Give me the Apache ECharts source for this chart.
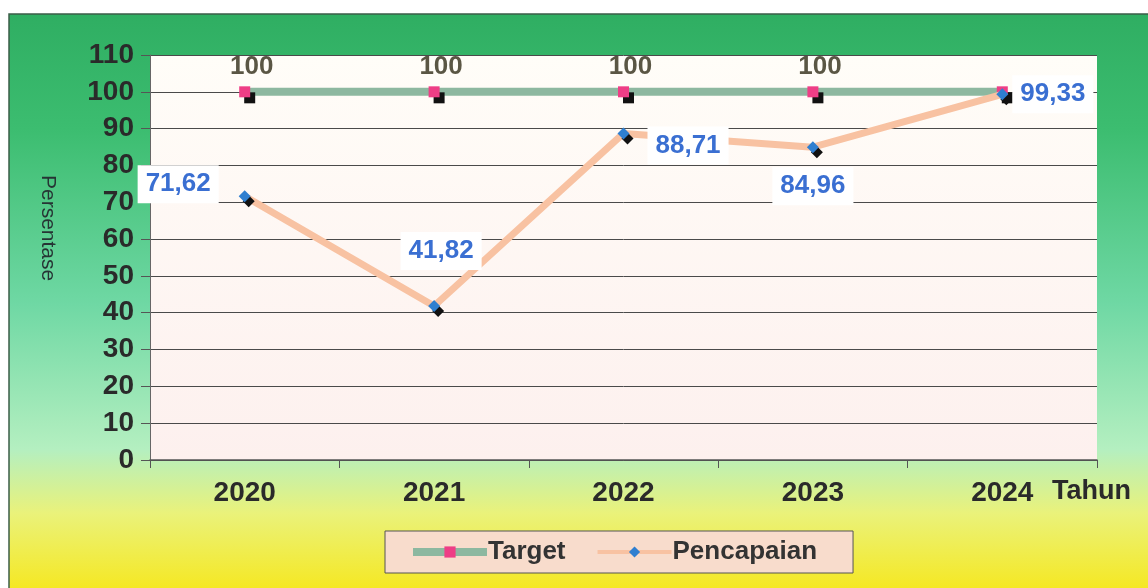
<!DOCTYPE html>
<html>
<head>
<meta charset="UTF-8">
<title>Target dan Pencapaian</title>
<script src="https://cdn.jsdelivr.net/npm/echarts@6/dist/echarts.min.js"></script>
<style>
  html, body { margin: 0; padding: 0; background: #fff; }
  #chart { width: 1148px; height: 588px; }
</style>
</head>
<body>
<div id="chart"></div>
<script>
var years = ['2020', '2021', '2022', '2023', '2024'];
var target = [100, 100, 100, 100, 100];
var pencapaian = [71.62, 41.82, 88.71, 84.96, 99.33];

var chart = echarts.init(document.getElementById('chart'));
var font = '"Liberation Sans", Arial, sans-serif';

// where each Pencapaian label sits around its point
var labelPlace = [
  { position: 'left', distance: 20, offset: [0, -12] },
  { position: 'top', distance: 30, offset: [7, 0] },
  { position: 'right', distance: 18, offset: [0, 12] },
  { position: 'bottom', distance: 14, offset: [0, 0] },
  { position: 'right', distance: 4, offset: [0, 0] }
];

function comma(v) {
  return v.toFixed(2).replace('.', ',');
}

var pencapaianData = pencapaian.map(function (v, i) {
  return { value: v, label: labelPlace[i] };
});
// the last target label is left out, the 99,33 label stands there
var targetData = target.map(function (v, i) {
  return i === target.length - 1 ? { value: v, label: { show: false } } : v;
});

var option = {
  backgroundColor: '#ffffff',
  animation: false,
  graphic: [{
    type: 'rect',
    z: -10,
    shape: { x: 9, y: 14, width: 1150, height: 580 },
    style: {
      fill: {
        type: 'linear', x: 0, y: 0, x2: 0, y2: 1,
        colorStops: [
          { offset: 0, color: '#2fae62' },
          { offset: 0.2, color: '#3cbd70' },
          { offset: 0.5, color: '#6fd8a4' },
          { offset: 0.75, color: '#b4efc0' },
          { offset: 0.86, color: '#eaf27a' },
          { offset: 1, color: '#f6e71c' }
        ]
      },
      stroke: '#3b5e48',
      lineWidth: 1.5
    }
  }, {
    type: 'text',
    left: 37,
    top: 175,
    rotation: -Math.PI / 2,
    style: {
      text: 'Persentase',
      fill: '#263434',
      font: '21px ' + font
    }
  }],
  grid: {
    left: 150,
    right: 51,
    top: 55,
    bottom: 128,
    show: true,
    borderWidth: 0,
    backgroundColor: {
      type: 'linear', x: 0, y: 0, x2: 0, y2: 1,
      colorStops: [
        { offset: 0, color: '#fffdf8' },
        { offset: 1, color: '#fdf0ee' }
      ]
    }
  },
  legend: {
    left: 385,
    top: 531,
    padding: [8, 36, 8, 24],
    itemGap: 30,
    itemWidth: 74,
    itemHeight: 14,
    backgroundColor: '#f8dccc',
    borderColor: '#555',
    borderWidth: 1,
    textStyle: { fontSize: 26, fontWeight: 'bold', color: '#333', fontFamily: font, padding: [0, 0, 0, -4] },
    data: [
      { name: 'Target', lineStyle: { width: 8 } },
      { name: 'Pencapaian', lineStyle: { width: 4 } }
    ]
  },
  xAxis: {
    type: 'category',
    data: years,
    boundaryGap: true,
    name: 'Tahun',
    nameLocation: 'end',
    nameGap: -45,
    nameTextStyle: {
      fontSize: 27, fontWeight: 'bold', color: '#2a2a2a', fontFamily: font,
      align: 'left', verticalAlign: 'top', padding: [18, 0, 0, 0]
    },
    axisLine: { show: true, lineStyle: { color: '#555', width: 1.5 } },
    axisTick: { show: true, length: 8, lineStyle: { color: '#555' } },
    axisLabel: { margin: 19, fontSize: 28, fontWeight: 'bold', color: '#2a2a2a', fontFamily: font }
  },
  yAxis: {
    type: 'value',
    min: 0,
    max: 110,
    interval: 10,
    axisLine: { show: true, lineStyle: { color: '#666', width: 1 } },
    axisTick: { show: true, length: 9, lineStyle: { color: '#555' } },
    axisLabel: { margin: 16, fontSize: 28, fontWeight: 'bold', color: '#2a2a2a', fontFamily: font },
    splitLine: { show: true, lineStyle: { color: '#4a4a4a', width: 1 } }
  },
  series: [{
    name: 'Target',
    type: 'line',
    data: targetData,
    z: 3,
    symbol: 'rect',
    symbolSize: 11,
    itemStyle: {
      color: '#ee3e86',
      shadowColor: '#111',
      shadowOffsetX: 5,
      shadowOffsetY: 6
    },
    lineStyle: { color: '#8db8a0', width: 8 },
    label: {
      show: true,
      position: 'top',
      distance: 6,
      offset: [7, 0],
      fontSize: 26,
      fontWeight: 'bold',
      color: '#5a5644',
      fontFamily: font
    }
  }, {
    name: 'Pencapaian',
    type: 'line',
    data: pencapaianData,
    z: 4,
    symbol: 'diamond',
    symbolSize: 12,
    itemStyle: {
      color: '#2f7fd0',
      shadowColor: '#111',
      shadowOffsetX: 4,
      shadowOffsetY: 5
    },
    lineStyle: { color: '#f8c2a2', width: 7 },
    label: {
      show: true,
      formatter: function (p) { return comma(p.value); },
      fontSize: 26,
      fontWeight: 'bold',
      color: '#3a6fd2',
      fontFamily: font,
      backgroundColor: '#ffffff',
      padding: [6, 8]
    }
  }]
};

chart.setOption(option);
</script>
</body>
</html>
